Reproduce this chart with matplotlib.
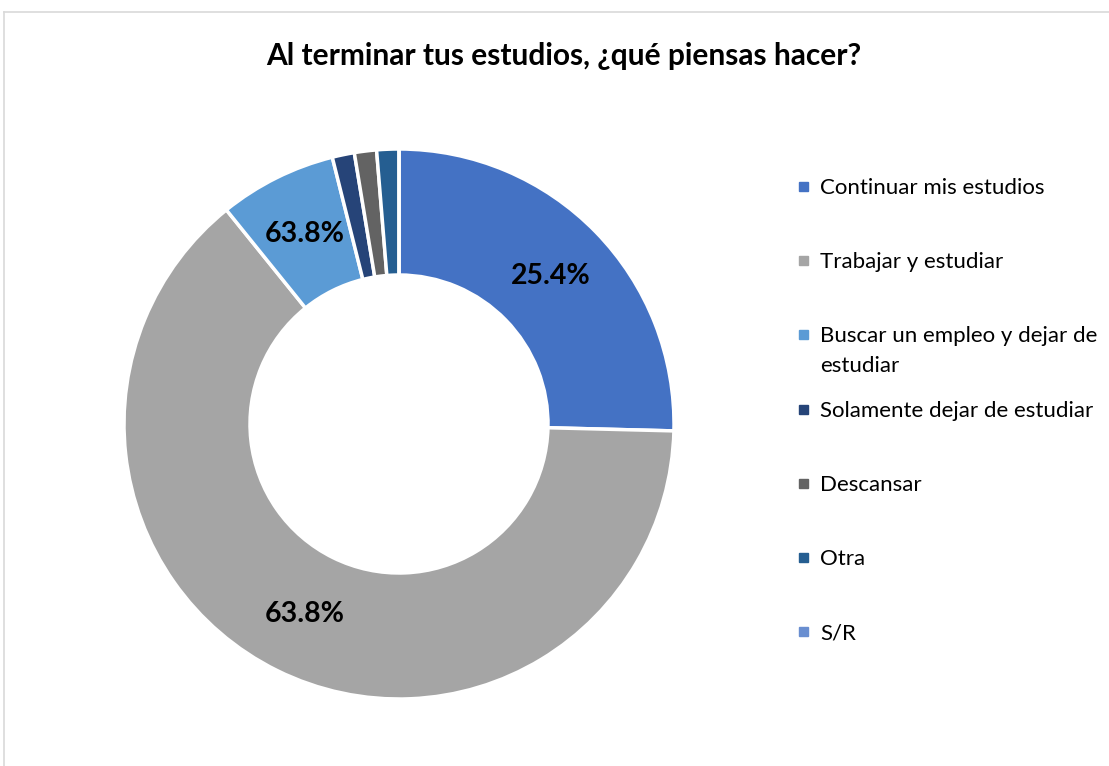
import matplotlib.pyplot as plt
import matplotlib.patches as mpatches
from matplotlib.lines import Line2D
import numpy as np

# data
categories = ['Continuar mis estudios', 'Trabajar y estudiar',
              'Buscar un empleo y dejar de\nestudiar', 'Solamente dejar de estudiar',
              'Descansar', 'Otra', 'S/R']
values = [25.4, 63.8, 6.9, 1.3, 1.3, 1.3, 0.0]
# labels as printed on the original chart
pct_labels = ['25.4%', '63.8%', '63.8%', '', '', '', '']
colors = ['#4472C4', '#A5A5A5', '#5B9BD5', '#264478', '#636363', '#255E91', '#698ED0']
title = 'Al terminar tus estudios, ¿qué piensas hacer?'

W, H = 1109, 766
plt.rcParams['font.family'] = ['Lato', 'DejaVu Sans']

fig = plt.figure(figsize=(W / 100, H / 100), dpi=100)

# chart border (cropped on the right and bottom)
fig.add_artist(Line2D([4 / W, 4 / W], [0, 1 - 12 / H], transform=fig.transFigure, color='#D9D9D9', lw=1.2))
fig.add_artist(Line2D([4 / W, 1], [1 - 12 / H, 1 - 12 / H], transform=fig.transFigure, color='#D9D9D9', lw=1.2))

cx, cy, R = 399, 424, 275
ax = fig.add_axes([(cx - R) / W, (H - cy - R) / H, 2 * R / W, 2 * R / H])
inner = 149 / R
wedges, _ = ax.pie(values, colors=colors, startangle=90, counterclock=False, radius=1,
                   wedgeprops=dict(width=1 - inner, edgecolor='white', linewidth=2.5))
ax.set_xlim(-1, 1)
ax.set_ylim(-1, 1)
ax.set_aspect('equal')
ax.axis('off')

rmid = (1 + inner) / 2
for w, lab in zip(wedges, pct_labels):
    if not lab:
        continue
    ang = np.deg2rad((w.theta1 + w.theta2) / 2)
    ax.text(rmid * np.cos(ang), rmid * np.sin(ang), lab, ha='center', va='center',
            fontsize=20.5, fontweight='bold', color='black')

fig.text(564 / W, 1 - 56 / H, title, ha='center', va='center', fontsize=21.5, fontweight='bold')

# legend drawn by hand to get Excel-like spacing
y0, step = 187, 74.2
for i, (lab, col) in enumerate(zip(categories, colors)):
    y = y0 + i * step
    fig.add_artist(mpatches.Rectangle(((803 - 4) / W, 1 - (y + 4) / H), 9 / W, 9 / H,
                                      transform=fig.transFigure, color=col))
    fig.text(820 / W, 1 - (y - 9) / H, lab, ha='left', va='top', fontsize=16,
             linespacing=1.6)

fig.savefig('out.png', dpi=100)
